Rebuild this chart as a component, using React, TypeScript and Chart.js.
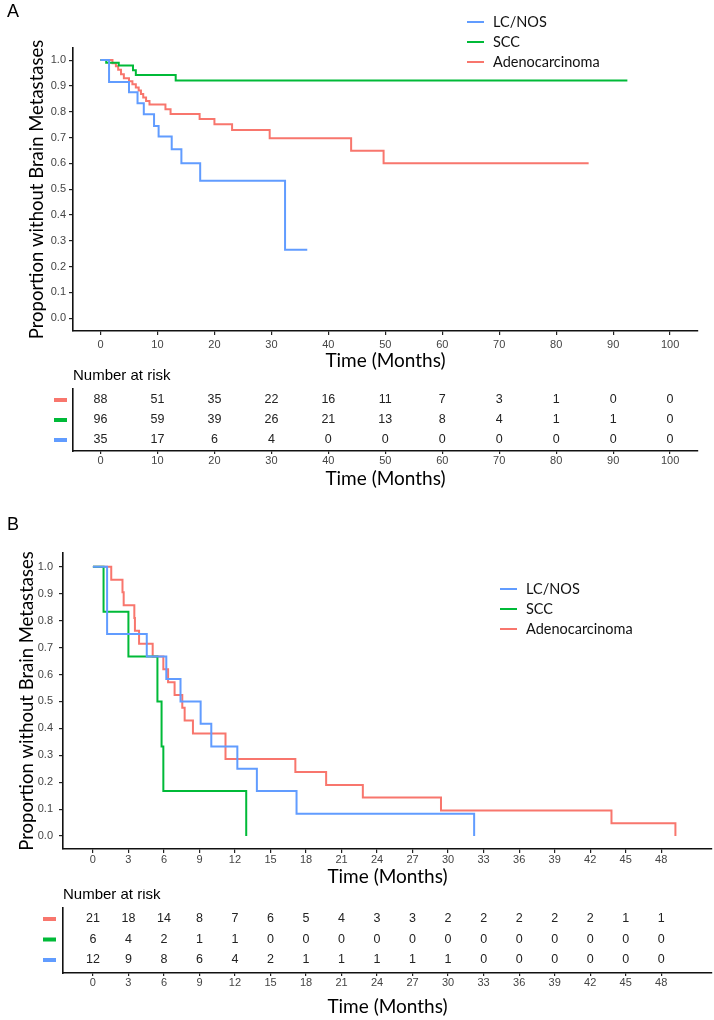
import React, { useEffect, useRef } from "react";
import { Chart, registerables } from "chart.js";

Chart.register(...registerables);

// ---------- Data ----------
const RED = "#F8766D";
const GREEN = "#00BA38";
const BLUE = "#619CFF";

// Panel A
const timeA_LC = [0, 1.5, 5.0, 6.5, 7.6, 9.4, 10.2, 12.5, 14.2, 17.5, 32.4, 36.3];
const survA_LC = [1, 0.915, 0.875, 0.833, 0.79, 0.745, 0.704, 0.655, 0.6, 0.532, 0.265, 0.265];
const timeA_SCC = [0, 1.0, 3.2, 5.7, 6.2, 13.2, 92.5];
const survA_SCC = [1, 0.99, 0.979, 0.961, 0.942, 0.921, 0.921];
const timeA_AD = [0, 2.1, 2.7, 3.1, 3.6, 4.1, 5.0, 5.6, 6.2, 6.7, 7.1, 7.5, 8.0, 8.6, 11.4, 12.3, 17.4, 20.0, 23.1, 29.7, 44.0, 49.7, 85.7];
const survA_AD = [1, 0.988, 0.976, 0.963, 0.945, 0.93, 0.918, 0.906, 0.894, 0.882, 0.869, 0.855, 0.842, 0.828, 0.81, 0.791, 0.772, 0.751, 0.729, 0.697, 0.649, 0.6, 0.6];
const ticksA = [0, 10, 20, 30, 40, 50, 60, 70, 80, 90, 100];
const riskA_AD = [88, 51, 35, 22, 16, 11, 7, 3, 1, 0, 0];
const riskA_SCC = [96, 59, 39, 26, 21, 13, 8, 4, 1, 1, 0];
const riskA_LC = [35, 17, 6, 4, 0, 0, 0, 0, 0, 0, 0];

// Panel B
const timeB_LC = [0, 1.2, 4.55, 6.2, 7.4, 9.1, 10.0, 12.2, 13.85, 17.2, 32.2];
const survB_LC = [1, 0.75, 0.667, 0.583, 0.5, 0.417, 0.333, 0.25, 0.167, 0.083, 0];
const timeB_SCC = [0, 0.9, 3.0, 5.45, 5.8, 5.95, 12.95];
const survB_SCC = [1, 0.833, 0.667, 0.5, 0.333, 0.167, 0];
const timeB_AD = [0, 1.55, 2.5, 2.6, 3.5, 3.55, 3.9, 5.05, 5.95, 6.35, 6.9, 7.55, 7.75, 8.45, 11.2, 17.1, 19.7, 22.8, 29.4, 43.8, 49.2];
const survB_AD = [1, 0.952, 0.905, 0.857, 0.81, 0.762, 0.714, 0.667, 0.619, 0.571, 0.524, 0.476, 0.429, 0.381, 0.286, 0.238, 0.19, 0.143, 0.095, 0.048, 0];
const ticksB = [0, 3, 6, 9, 12, 15, 18, 21, 24, 27, 30, 33, 36, 39, 42, 45, 48];
const riskB_AD = [21, 18, 14, 8, 7, 6, 5, 4, 3, 3, 2, 2, 2, 2, 2, 1, 1];
const riskB_SCC = [6, 4, 2, 1, 1, 0, 0, 0, 0, 0, 0, 0, 0, 0, 0, 0, 0];
const riskB_LC = [12, 9, 8, 6, 4, 2, 1, 1, 1, 1, 1, 0, 0, 0, 0, 0, 0];

const yTicks = [0, 0.1, 0.2, 0.3, 0.4, 0.5, 0.6, 0.7, 0.8, 0.9, 1.0];
const legendNames = ["LC/NOS", "SCC", "Adenocarcinoma"];
const legendColors = [BLUE, GREEN, RED];

const TITLE_FONT = "Lato, 'Open Sans', sans-serif";
const TICK_FONT = "'Liberation Sans', Arial, sans-serif";

// ---------- Helpers ----------
type Series = { name: string; color: string; t: number[]; s: number[] };

function xScaleOpts(o: {
  min: number; max: number; ticks: number[]; height: number;
  tickLen: number; tickPad: number; titlePadBottom: number;
}) {
  return {
    type: "linear",
    min: o.min,
    max: o.max,
    afterBuildTicks: (sc: any) => { sc.ticks = o.ticks.map((v) => ({ value: v })); },
    afterFit: (sc: any) => { sc.height = o.height; },
    grid: { display: true, drawOnChartArea: false, drawTicks: true, tickLength: o.tickLen, color: "#222", lineWidth: 1.2 },
    border: { display: true, color: "#111", width: 1.6 },
    ticks: {
      autoSkip: false, maxRotation: 0, padding: o.tickPad, color: "#444",
      font: { family: TICK_FONT, size: 11 },
      callback: (v: any) => String(v),
    },
    title: {
      display: true, text: "Time (Months)", color: "#000",
      font: { family: TITLE_FONT, size: 19, lineHeight: 1.2 },
      padding: { top: 0, bottom: o.titlePadBottom },
    },
  };
}

function KMChart(props: {
  top: number; height: number; series: Series[]; letter: string;
  xmin: number; xmax: number; ymin: number; ymax: number; ticks: number[];
  padTop: number; padRight: number; yWidth: number; xHeight: number;
  yTitlePad: number; xTitlePadBottom: number; yTickPad: number; xTickPad: number;
  letterY: number; legendX: number; legendY: number;
}) {
  const ref = useRef<HTMLCanvasElement | null>(null);
  useEffect(() => {
    const p = props;
    const deco = {
      id: "deco",
      afterDraw(chart: any) {
        const ctx = chart.ctx;
        ctx.save();
        ctx.fillStyle = "#000";
        ctx.font = `18px ${TICK_FONT}`;
        ctx.textAlign = "left";
        ctx.textBaseline = "middle";
        ctx.fillText(p.letter, 7, p.letterY);
        // legend
        ctx.font = `14.5px ${TITLE_FONT}`;
        legendNames.forEach((name, i) => {
          const y = p.legendY + i * 20;
          ctx.strokeStyle = legendColors[i];
          ctx.lineWidth = 2;
          ctx.beginPath();
          ctx.moveTo(p.legendX, y);
          ctx.lineTo(p.legendX + 17, y);
          ctx.stroke();
          ctx.fillStyle = "#111";
          ctx.fillText(name, p.legendX + 26, y);
        });
        ctx.restore();
      },
    };
    const chart = new Chart(ref.current as HTMLCanvasElement, {
      type: "line",
      data: {
        datasets: p.series.map((s) => ({
          label: s.name,
          data: s.t.map((t, i) => ({ x: t, y: s.s[i] })),
          borderColor: s.color,
          backgroundColor: s.color,
          borderWidth: 2,
          stepped: "before",
          pointRadius: 0,
          fill: false,
        })),
      },
      options: {
        animation: false,
        responsive: false,
        events: [],
        layout: { padding: { top: p.padTop, right: p.padRight, left: 0, bottom: 0 } },
        plugins: { legend: { display: false }, tooltip: { enabled: false } },
        scales: {
          x: xScaleOpts({ min: p.xmin, max: p.xmax, ticks: p.ticks, height: p.xHeight, tickLen: 4, tickPad: p.xTickPad, titlePadBottom: p.xTitlePadBottom }),
          y: {
            type: "linear",
            min: p.ymin,
            max: p.ymax,
            afterBuildTicks: (sc: any) => { sc.ticks = yTicks.map((v) => ({ value: v })); },
            afterFit: (sc: any) => { sc.width = p.yWidth; },
            grid: { display: true, drawOnChartArea: false, drawTicks: true, tickLength: 4, color: "#222", lineWidth: 1.2 },
            border: { display: true, color: "#111", width: 1.6 },
            ticks: {
              padding: p.yTickPad, color: "#444",
              font: { family: TICK_FONT, size: 11 },
              callback: (v: any) => Number(v).toFixed(1),
            },
            title: {
              display: true, text: "Proportion without Brain Metastases", color: "#000",
              font: { family: TITLE_FONT, size: 18.5, lineHeight: 1.2 },
              padding: { top: p.yTitlePad, bottom: 0 },
            },
          },
        },
      } as any,
      plugins: [deco],
    } as any);
    return () => chart.destroy();
  }, []);
  return (
    <canvas ref={ref} width={714} height={props.height}
      style={{ position: "absolute", left: 0, top: props.top, width: 714, height: props.height, display: "block" }} />
  );
}

function RiskChart(props: {
  top: number; height: number; rows: number[][]; colors: string[];
  xmin: number; xmax: number; ymin: number; ymax: number; ticks: number[];
  padTop: number; padRight: number; yWidth: number; xHeight: number;
  xTitlePadBottom: number; xTickPad: number; titleY: number; dashX: number;
}) {
  const ref = useRef<HTMLCanvasElement | null>(null);
  useEffect(() => {
    const p = props;
    const table = {
      id: "table",
      afterDraw(chart: any) {
        const ctx = chart.ctx;
        const xs = chart.scales.x;
        const ys = chart.scales.y;
        ctx.save();
        ctx.fillStyle = "#000";
        ctx.font = `15px ${TICK_FONT}`;
        ctx.textAlign = "left";
        ctx.textBaseline = "middle";
        ctx.fillText("Number at risk", chart.chartArea.left, p.titleY);
        ctx.font = `12.5px ${TICK_FONT}`;
        ctx.textAlign = "center";
        p.rows.forEach((row, r) => {
          const y = ys.getPixelForValue(3 - r);
          ctx.fillStyle = p.colors[r];
          ctx.fillRect(p.dashX, y - 2, 13, 4);
          ctx.fillStyle = "#222";
          row.forEach((n, i) => {
            ctx.fillText(String(n), xs.getPixelForValue(p.ticks[i]), y);
          });
        });
        ctx.restore();
      },
    };
    const chart = new Chart(ref.current as HTMLCanvasElement, {
      type: "scatter",
      data: { datasets: [] },
      options: {
        animation: false,
        responsive: false,
        events: [],
        layout: { padding: { top: p.padTop, right: p.padRight, left: 0, bottom: 0 } },
        plugins: { legend: { display: false }, tooltip: { enabled: false } },
        scales: {
          x: xScaleOpts({ min: p.xmin, max: p.xmax, ticks: p.ticks, height: p.xHeight, tickLen: 3, tickPad: p.xTickPad, titlePadBottom: p.xTitlePadBottom }),
          y: {
            type: "linear",
            min: p.ymin,
            max: p.ymax,
            afterFit: (sc: any) => { sc.width = p.yWidth; },
            grid: { display: false },
            border: { display: true, color: "#111", width: 1.6 },
            ticks: { display: false },
          },
        },
      } as any,
      plugins: [table],
    } as any);
    return () => chart.destroy();
  }, []);
  return (
    <canvas ref={ref} width={714} height={props.height}
      style={{ position: "absolute", left: 0, top: props.top, width: 714, height: props.height, display: "block" }} />
  );
}

const seriesA: Series[] = [
  { name: "LC/NOS", color: BLUE, t: timeA_LC, s: survA_LC },
  { name: "SCC", color: GREEN, t: timeA_SCC, s: survA_SCC },
  { name: "Adenocarcinoma", color: RED, t: timeA_AD, s: survA_AD },
];
const seriesB: Series[] = [
  { name: "LC/NOS", color: BLUE, t: timeB_LC, s: survB_LC },
  { name: "SCC", color: GREEN, t: timeB_SCC, s: survB_SCC },
  { name: "Adenocarcinoma", color: RED, t: timeB_AD, s: survB_AD },
];

// x ranges derived from pixel layout of the reference
const A_XMIN = -4.83, A_XMAX = 104.9;
const B_XMIN = -2.525, B_XMAX = 52.29;

export default function App() {
  return (
    <div style={{ position: "fixed", left: 0, top: 0, width: 714, height: 1020, background: "#fff", overflow: "hidden" }}>
      <KMChart top={0} height={373} series={seriesA} letter="A"
        xmin={A_XMIN} xmax={A_XMAX} ymin={-0.05} ymax={1.047} ticks={ticksA}
        padTop={48} padRight={16} yWidth={73} xHeight={42}
        yTitlePad={25.6} xTitlePadBottom={0.6} yTickPad={3} xTickPad={3}
        letterY={12} legendX={467} legendY={22} />
      <RiskChart top={361} height={130} rows={[riskA_AD, riskA_SCC, riskA_LC]} colors={[RED, GREEN, BLUE]}
        xmin={A_XMIN} xmax={A_XMAX} ymin={0.45} ymax={3.55} ticks={ticksA}
        padTop={28} padRight={16} yWidth={73} xHeight={40}
        xTitlePadBottom={0.6} xTickPad={0} titleY={15} dashX={54} />
      <KMChart top={491} height={398} series={seriesB} letter="B"
        xmin={B_XMIN} xmax={B_XMAX} ymin={-0.048} ymax={1.051} ticks={ticksB}
        padTop={62} padRight={2} yWidth={63} xHeight={40}
        yTitlePad={15.6} xTitlePadBottom={0.6} yTickPad={6} xTickPad={0}
        letterY={34} legendX={500} legendY={98} />
      <RiskChart top={889} height={131} rows={[riskB_AD, riskB_SCC, riskB_LC]} colors={[RED, GREEN, BLUE]}
        xmin={B_XMIN} xmax={B_XMAX} ymin={0.366} ymax={3.537} ticks={ticksB}
        padTop={19} padRight={2} yWidth={63} xHeight={47}
        xTitlePadBottom={1.6} xTickPad={0} titleY={6} dashX={43} />
    </div>
  );
}
